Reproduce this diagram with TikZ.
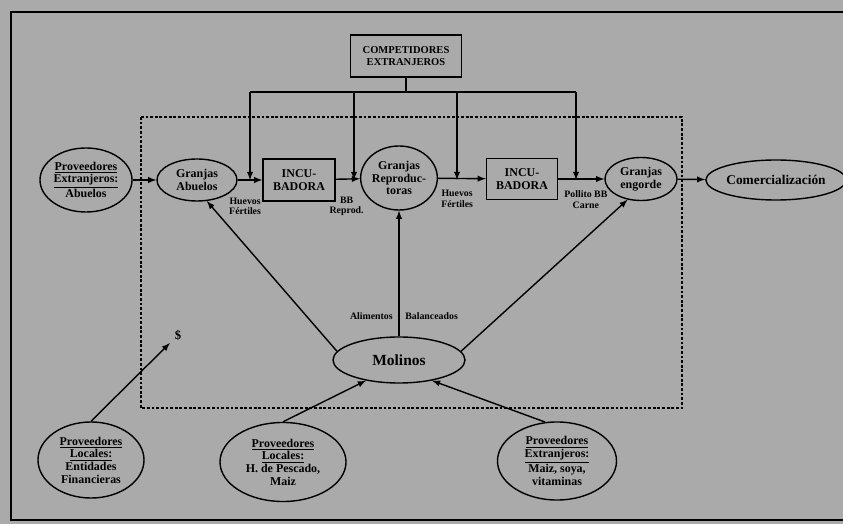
\documentclass[tikz,border=0pt]{standalone}
\usepackage{fontspec}
\setmainfont{Liberation Serif}
\usetikzlibrary{shapes.geometric}
\usepgflibrary{arrows}
\definecolor{scan}{RGB}{170,170,170}

\tikzset{
    ell/.style={ellipse, draw, line width=1pt, fill=scan, inner sep=0pt, align=center,
                font=\fontsize{8.5}{9}\selectfont\bfseries},
    box/.style={rectangle, draw, line width=1pt, fill=scan, inner sep=0pt, align=center,
                font=\fontsize{8.5}{9.5}\selectfont\bfseries},
    lbl/.style={font=\fontsize{7}{7.4}\selectfont\bfseries, align=center, inner sep=1pt},
    link/.style={line width=1pt, -latex},
}

\begin{document}
\begin{tikzpicture}[x=0.025cm, y=-0.025cm]
    \useasboundingbox (0,0) rectangle (843,524);
    \fill[scan] (0,0) rectangle (843,524);
    \draw[line width=1pt] (845,12) -- (11,12) -- (11,520) -- (845,520);
    \draw[line width=1pt, dash pattern=on 2pt off 1.3pt] (141,117) rectangle (682,408);

    \node[box, minimum width=2.775cm, minimum height=1.05cm, font=\fontsize{7.5}{8.6}\selectfont\bfseries]
        (comp) at (406,56) {COMPETIDORES\\EXTRANJEROS};

    \node[ell, minimum width=2.3cm, minimum height=1.6cm] (prova) at (86,180)
        {\underline{Proveedores}\\\underline{Extranjeros:}\\Abuelos};
    \node[ell, minimum width=2cm, minimum height=1.05cm] (gabu) at (197,180) {Granjas\\Abuelos};
    \node[box, minimum width=1.8cm, minimum height=1.05cm] (incu1) at (299,180) {INCU-\\BADORA};
    \node[ell, minimum width=1.9cm, minimum height=1.6cm] (grep) at (399,178) {Granjas\\Reproduc-\\toras};
    \node[box, minimum width=1.775cm, minimum height=1.025cm] (incu2) at (522,179) {INCU-\\BADORA};
    \node[ell, minimum width=1.8cm, minimum height=1.075cm] (geng) at (641,179) {Granjas\\engorde};
    \node[ell, minimum width=2.9cm, minimum height=1cm, font=\fontsize{9.5}{10}\selectfont\bfseries]
        (comer) at (776,180) {Comercialización};

    \node[ell, minimum width=3.3cm, minimum height=1.15cm, font=\fontsize{11}{12}\selectfont\bfseries]
        (mol) at (399,360) {Molinos};
    \node[font=\fontsize{9}{10}\selectfont\bfseries] (dol) at (178,335) {\$};

    \node[ell, minimum width=2.65cm, minimum height=1.9cm] (pfin) at (91,460)
        {\underline{Proveedores}\\\underline{Locales:}\\Entidades\\Financieras};
    \node[ell, minimum width=3.15cm, minimum height=1.975cm] (ppes) at (283,462)
        {\underline{Proveedores}\\\underline{Locales:}\\H. de Pescado,\\Maiz};
    \node[ell, minimum width=2.975cm, minimum height=1.95cm] (pext) at (557,461)
        {\underline{Proveedores}\\\underline{Extranjeros:}\\Maiz, soya,\\vitaminas};

    \foreach \x [count=\i] in {250,354,457,576} {
        \coordinate (t\i) at (\x,92);
        \coordinate (d\i) at (\x,180);
        \draw[link] (t\i) -- (d\i);
    }
    \draw[line width=1pt] (comp.south) -- (comp.south |- t1);
    \draw[line width=1pt] (t1) -- (t4);

    \draw[link] (prova) -- (gabu);
    \draw[link] (gabu) -- node[lbl, pos=0.3, below=11pt] {Huevos\\Fértiles} (incu1);
    \draw[link] (incu1) -- node[lbl, pos=0.45, below=11pt] {BB\\Reprod.} (grep);
    \draw[link] (grep) -- node[lbl, pos=0.4, below=7pt] {Huevos\\Fértiles} (incu2);
    \draw[link] (incu2) -- node[lbl, pos=0.6, below=7pt] {Pollito BB\\Carne} (geng);
    \draw[link] (geng) -- (comer);

    \draw[link] (mol) -- node[lbl, pos=0.16, left=3pt] {Alimentos}
        node[lbl, pos=0.16, right=3pt] {Balanceados} (grep);
    \draw[link] (mol.172) -- (gabu.295);
    \draw[link] (mol.8) -- (geng.237);

    \draw[link] (pfin.north) -- (dol);
    \draw[link] (ppes.north) -- (mol.212);
    \draw[link] (pext.107) -- (mol.328);
\end{tikzpicture}
\end{document}
